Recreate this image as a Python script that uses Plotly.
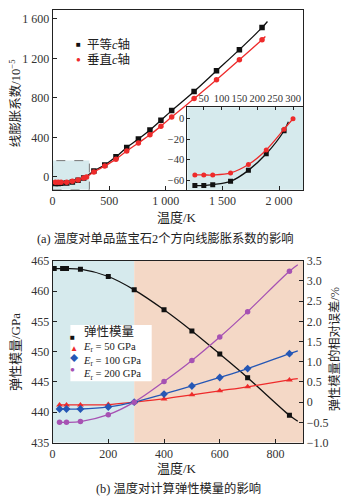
import plotly.graph_objects as go

W, H = 345, 503
FONT = "Liberation Serif, Times New Roman, Noto Sans CJK SC, serif"

# ---------------- panel (a) data ----------------
a_T_par = [25, 50, 75, 125, 175, 225, 275, 365, 461, 560, 655, 758, 860, 957, 1052, 1250, 1448, 1650, 1850]
a_par = [-65.4, -65.4, -64.5, -61.2, -50.5, -34.3, -11.7, 60, 121, 203, 298, 383, 475, 573, 671, 865, 1074, 1288, 1511]
a_T_perp = [25, 50, 75, 125, 175, 225, 275, 300, 365, 461, 560, 655, 758, 860, 957, 1052, 1250, 1448, 1650, 1850]
a_perp = [-55, -55, -55, -53, -44.8, -30.5, -10.2, 0, 50, 110, 180, 262, 344, 426, 514, 606, 793, 983, 1186, 1389]
a_par_end = (1898, 1573)      # end of fitted curve
a_perp_end = (1880, 1420)

# inset (low temperature)
i_T_par = [25, 50, 75, 125, 175, 225, 275]
i_par = [-65.4, -65.4, -64.5, -61.2, -50.5, -34.3, -11.7]
i_T_perp = [25, 50, 75, 125, 175, 225, 275, 300]
i_perp = [-55, -55, -55, -53, -44.8, -30.5, -10.2, 0]
i_par_end = (287, -3)

a_xticks = [0, 500, 1000, 1500, 2000]
a_xtext = ["0", "500", "1 000", "1 500", "2 000"]
a_yticks = [0, 400, 800, 1200, 1600]
a_ytext = ["0", "400", "800", "1 200", "1 600"]
i_xticks = [50, 100, 150, 200, 250, 300]
i_yticks = [0, -20, -40, -60]
i_ytext = ["0", "−20", "−40", "−60"]

# ---------------- panel (b) data ----------------
b_T_E = [6, 36, 50, 100, 200, 293, 400, 500, 600, 700, 850]
b_E = [463.7, 463.7, 463.7, 463.6, 462.4, 460.2, 456.9, 453.4, 449.6, 445.7, 439.5]
b_T_r = [25, 50, 100, 200, 293, 400, 500, 600, 700, 850]
b_err50 = [-0.07, -0.07, -0.07, -0.06, 0, 0.08, 0.18, 0.28, 0.38, 0.55]
b_err100 = [-0.17, -0.17, -0.17, -0.12, 0, 0.2, 0.4, 0.61, 0.83, 1.2]
b_err200 = [-0.5, -0.5, -0.48, -0.31, 0, 0.51, 1.03, 1.61, 2.24, 3.24]
b_T_end = 880
b_E_end, b_50_end, b_100_end, b_200_end = 438.5, 0.58, 1.27, 3.4
b_yticks_r = [-1.0, -0.5, 0, 0.5, 1.0, 1.5, 2.0, 2.5, 3.0, 3.5]
b_ytext_r = ["−1.0", "−0.5", "0", "0.5", "1.0", "1.5", "2.0", "2.5", "3.0", "3.5"]
T_ref = 293

BLACK = "#111111"
RED = "#ee2b2b"
BLUE = "#2557b5"
PURPLE = "#a652b3"
LBLUE = "#d6eaed"
SALMON = "#f4d8c6"


def px(x):
    return x / W


def py(y):
    return 1 - y / H


fig = go.Figure()


def line(x, y, color, xa, ya, w=1.3):
    fig.add_trace(go.Scatter(x=x, y=y, mode="lines", xaxis=xa, yaxis=ya,
                             line=dict(color=color, width=w, shape="spline", smoothing=1.0),
                             showlegend=False, hoverinfo="skip"))


def pts(x, y, color, sym, size, xa, ya):
    fig.add_trace(go.Scatter(x=x, y=y, mode="markers", xaxis=xa, yaxis=ya,
                             marker=dict(color=color, symbol=sym, size=size, line=dict(width=0)),
                             showlegend=False))


# panel (a) main
line(a_T_par + [a_par_end[0]], a_par + [a_par_end[1]], BLACK, "x", "y")
pts(a_T_par, a_par, BLACK, "square", 5.5, "x", "y")
line(a_T_perp + [a_perp_end[0]], a_perp + [a_perp_end[1]], RED, "x", "y")
pts(a_T_perp, a_perp, RED, "circle", 5.5, "x", "y")

# inset
line(i_T_par + [i_par_end[0]], i_par + [i_par_end[1]], BLACK, "x2", "y2")
pts(i_T_par, i_par, BLACK, "square", 5, "x2", "y2")
line(i_T_perp, i_perp, RED, "x2", "y2")
pts(i_T_perp, i_perp, RED, "circle", 5, "x2", "y2")

# panel (b)
line(b_T_E + [b_T_end], b_E + [b_E_end], BLACK, "x3", "y3")
pts(b_T_E, b_E, BLACK, "square", 5, "x3", "y3")
line(b_T_r + [b_T_end], b_err50 + [b_50_end], RED, "x3", "y4")
pts(b_T_r, b_err50, RED, "triangle-up", 6, "x3", "y4")
line(b_T_r + [b_T_end], b_err100 + [b_100_end], BLUE, "x3", "y4")
pts(b_T_r, b_err100, BLUE, "diamond", 6, "x3", "y4")
line(b_T_r + [b_T_end], b_err200 + [b_200_end], PURPLE, "x3", "y4")
pts(b_T_r, b_err200, PURPLE, "circle", 5.5, "x3", "y4")

axcommon = dict(showline=True, linecolor="#222", linewidth=1, ticks="inside", ticklen=4,
                tickcolor="#222", showgrid=False, zeroline=False, tickangle=0,
                tickfont=dict(family=FONT, size=12, color="#333"))
small = {**axcommon, "tickfont": dict(family=FONT, size=10.5, color="#333"), "ticklen": 3}

dom_x = [px(50), px(303)]
fig.update_layout(
    width=W, height=H, margin=dict(l=0, r=0, t=0, b=0),
    paper_bgcolor="white", plot_bgcolor="rgba(0,0,0,0)",
    showlegend=False,
    xaxis=dict(domain=dom_x, range=[0, 2215], anchor="y", mirror=True,
               tickvals=a_xticks, ticktext=a_xtext, **axcommon),
    yaxis=dict(domain=[py(188), py(3)], range=[-130, 1690], anchor="x", mirror=True,
               tickvals=a_yticks, ticktext=a_ytext, **axcommon),
    xaxis2=dict(domain=[px(186), px(303)], range=[4, 329], anchor="y2", side="top", mirror=True,
                tickvals=i_xticks, **small),
    yaxis2=dict(domain=[py(188), py(103)], range=[-69.5, 11.4], anchor="x2", mirror=True,
                tickvals=i_yticks, ticktext=i_ytext, **small),
    xaxis3=dict(domain=dom_x, range=[0, 900], anchor="y3", mirror=True,
                tickvals=[0, 200, 400, 600, 800], **axcommon),
    yaxis3=dict(domain=[py(448), py(261)], range=[435, 465], anchor="x3",
                tickvals=[435, 440, 445, 450, 455, 460, 465], **axcommon),
    yaxis4=dict(range=[-1.0, 3.5], overlaying="y3", anchor="x3", side="right",
                tickvals=b_yticks_r, ticktext=b_ytext_r, **axcommon),
)

shapes = [
    # dashed low-T box in panel (a)
    dict(type="rect", xref="x", yref="y", x0=0, x1=325, y0=-130, y1=165,
         fillcolor=LBLUE, line=dict(color="#777", width=1, dash="dash"), layer="below"),
    # inset background
    dict(type="rect", xref="x2 domain", yref="y2 domain", x0=0, x1=1, y0=0, y1=1,
         fillcolor=LBLUE, line=dict(width=0), layer="below"),
    # panel (b) shaded regions
    dict(type="rect", xref="x3", yref="y3 domain", x0=0, x1=T_ref, y0=0, y1=1,
         fillcolor=LBLUE, line=dict(width=0), layer="below"),
    dict(type="rect", xref="x3", yref="y3 domain", x0=T_ref, x1=900, y0=0, y1=1,
         fillcolor=SALMON, line=dict(width=0), layer="below"),
    # legend box (b)
    dict(type="rect", xref="paper", yref="paper", x0=px(68), x1=px(150), y0=py(385), y1=py(327),
         fillcolor="white", line=dict(width=0), layer="above"),
]
fig.update_layout(shapes=shapes)

ann = []


def text(x, y, s, size=12, angle=0, xanchor="center", color="#222", yanchor="middle"):
    ann.append(dict(x=px(x), y=py(y), xref="paper", yref="paper", text=s, showarrow=False,
                    textangle=angle, xanchor=xanchor, yanchor=yanchor, align="left",
                    borderpad=0, font=dict(family=FONT, size=size, color=color)))


# legend (a)
text(76, 39, "■", 8, xanchor="center", color=BLACK)
text(84, 39, "平等<i>c</i>轴", 12.5, xanchor="left")
text(76, 53.5, "●", 8, xanchor="center", color=RED)
text(84, 53.5, "垂直<i>c</i>轴", 12.5, xanchor="left")

# legend (b) — one block of text, one block of colored symbols
sym_block = ("<span style='color:%s'>■</span><br><span style='color:%s'>▲</span><br>"
             "<span style='color:%s'>◆</span><br><span style='color:%s'>●</span>") % (BLACK, RED, BLUE, PURPLE)
text(72, 356.5, sym_block, 8.2, xanchor="center")
leg_block = ("<span style='font-size:12.5px'>弹性模量</span><br><i>E</i><sub>r</sub> = 50 GPa<br>"
             "<i>E</i><sub>r</sub> = 100 GPa<br><i>E</i><sub>r</sub> = 200 GPa")
text(80, 356.5, leg_block, 10.6, xanchor="left")

# axis titles and captions
text(12, 99, "线膨胀系数/10<sup>−5</sup>", 12.5, angle=-90)
text(176, 217, "温度/K", 13)
text(164, 238, "(a) 温度对单品蓝宝石2个方向线膨胀系数的影响", 12.3)
text(12, 355, "弹性模量/GPa", 13, angle=-90)
text(334, 352, "弹性模量的相对误差/%", 12.3, angle=-90)
text(176, 475, "温度/K", 13)
text(177, 495, "(b) 温度对计算弹性模量的影响", 12.3)

fig.update_layout(annotations=ann)
fig.write_html("out.html")
